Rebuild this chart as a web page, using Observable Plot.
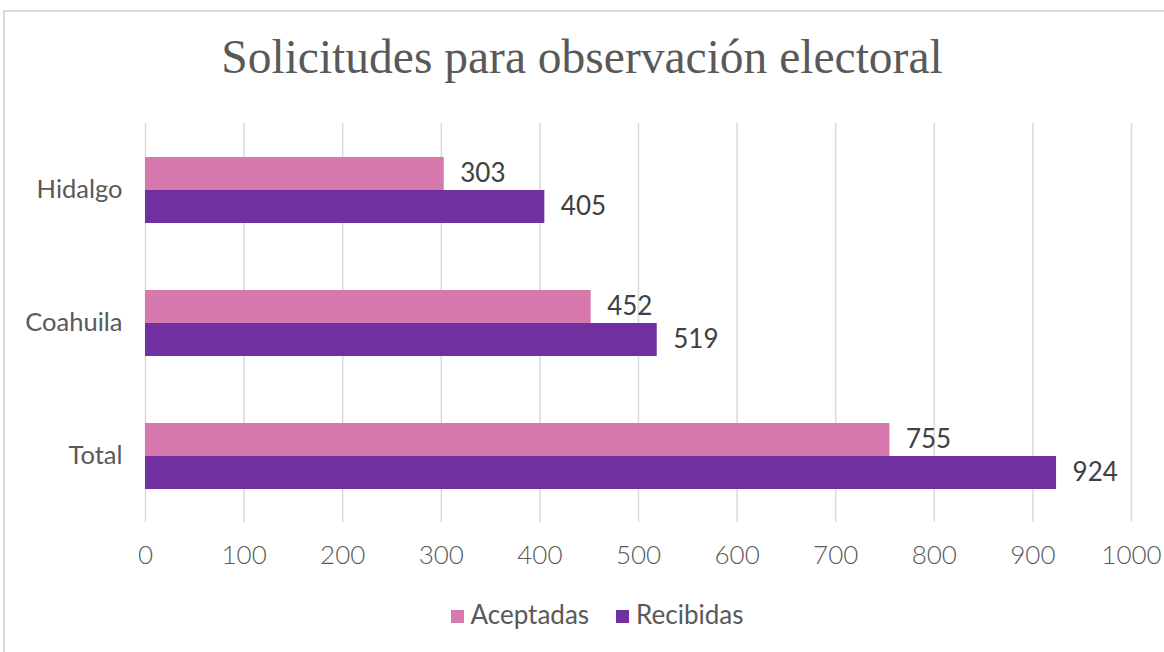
<!DOCTYPE html>
<html><head><meta charset="utf-8">
<script src="https://cdn.jsdelivr.net/npm/d3@7"></script>
<script src="https://cdn.jsdelivr.net/npm/@observablehq/plot@0.6"></script>
<style>
body{margin:0;background:#fff;width:1164px;height:652px;overflow:hidden;position:relative;font-family:Lato,sans-serif;}
#frame{position:absolute;left:3px;top:10px;width:1161px;height:642px;border-left:2px solid #d9d9d9;border-top:2px solid #d9d9d9;}
#title{position:absolute;left:0;top:29px;width:1164px;text-align:center;font-family:"Liberation Serif",serif;font-size:47.5px;line-height:56px;color:#595959;}
#chart{position:absolute;left:0;top:110px;}
#legend{position:absolute;left:0;top:598px;width:1134px;padding-left:30px;display:flex;justify-content:center;gap:27px;font-size:26px;line-height:32px;color:#595959;}
#legend span.sw{display:inline-block;width:13px;height:13px;margin-right:7px;vertical-align:1px;}
</style></head><body>
<div id="frame"></div>
<div id="title">Solicitudes para observación electoral</div>
<div id="chart"></div>
<div id="legend"></div>
<script>
const categories = ["Hidalgo", "Coahuila", "Total"];
const series = ["Aceptadas", "Recibidas"];
const aceptadas = [303, 452, 755];
const recibidas = [405, 519, 924];
const colors = ["#d779ac", "#7030a0"];
const xTicks = [0,100,200,300,400,500,600,700,800,900,1000];

const data = [];
categories.forEach((c, i) => {
  data.push({cat: c, serie: series[0], value: aceptadas[i]});
  data.push({cat: c, serie: series[1], value: recibidas[i]});
});

const plot = Plot.plot({
  width: 1164,
  height: 470,
  marginLeft: 145,
  marginRight: 33,
  marginTop: 12,
  marginBottom: 58,
  style: {fontFamily: "Lato, sans-serif", color: "#595959", background: "transparent"},
  x: {domain: [0, 1000], ticks: xTicks, label: null},
  y: {domain: series, paddingInner: 0, paddingOuter: 0.98, axis: null},
  fy: {domain: categories, padding: 0, label: null},
  color: {domain: series, range: colors},
  marks: [
    Plot.gridX(xTicks, {stroke: "#d9d9d9", strokeOpacity: 1, strokeWidth: 1.5}),
    Plot.axisX(xTicks, {tickSize: 0, tickPadding: 23, fontSize: 26, fill: "#595959", label: null, fontWeight: 300, tickFormat: d3.format("d")}),
    Plot.axisFy({tickSize: 0, tickPadding: 23, fontSize: 25.5, fill: "#595959", label: null, anchor: "left"}),
    Plot.barX(data, {x: "value", y: "serie", fy: "cat", fill: "serie"}),
    Plot.text(data, {x: "value", y: "serie", fy: "cat", text: d => String(d.value), dx: 16, textAnchor: "start", fontSize: 26, fill: "#404040"})
  ]
});
document.getElementById("chart").appendChild(plot);

const lg = document.getElementById("legend");
series.forEach((s, i) => {
  const item = document.createElement("div");
  item.innerHTML = `<span class="sw" style="background:${colors[i]}"></span>${s}`;
  lg.appendChild(item);
});
</script>
</body></html>
